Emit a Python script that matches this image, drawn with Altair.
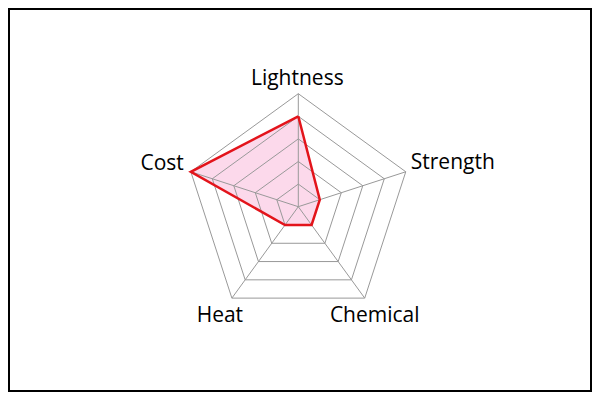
import math
import altair as alt
import pandas as pd

# ---- data ----
categories = ["Lightness", "Strength", "Chemical", "Heat", "Cost"]
values = [4, 1, 1, 1, 5]
ring_levels = [1, 2, 3, 4, 5]
max_value = 5

n = len(categories)
angles = [2 * math.pi * i / n for i in range(n)]


def pt(r, a):
    return r * math.sin(a), r * math.cos(a)


# rings
ring_rows = []
for lv in ring_levels:
    for k in range(n + 1):
        x, y = pt(lv, angles[k % n])
        ring_rows.append({"ring": lv, "idx": k, "x": x, "y": y})
rings_df = pd.DataFrame(ring_rows)

# spokes
spoke_rows = []
for c, a in zip(categories, angles):
    x, y = pt(max_value, a)
    spoke_rows.append({"cat": c, "x": 0.0, "y": 0.0, "x2": x, "y2": y})
spokes_df = pd.DataFrame(spoke_rows)

# series polygon
poly_rows = []
for k in range(n + 1):
    x, y = pt(values[k % n], angles[k % n])
    poly_rows.append({"idx": k, "x": x, "y": y})
poly_df = pd.DataFrame(poly_rows)

# labels
lab_rows = []
for c, a in zip(categories, angles):
    x, y = pt(max_value, a)
    lab_rows.append({"cat": c, "x": x, "y": y})
lab_df = pd.DataFrame(lab_rows)

# ---- layout ----
W, H, PAD = 584, 384, 1
pw, ph = W - 2 * PAD, H - 2 * PAD
cx, cy = 298.3 - 8 - PAD, 206.7 - 8 - PAD
unit = 113 / max_value
xdom = [-cx / unit, (pw - cx) / unit]
ydom = [-(ph - cy) / unit, cy / unit]

xs = alt.Scale(domain=xdom, nice=False, zero=False)
ys = alt.Scale(domain=ydom, nice=False, zero=False)
X = lambda f="x": alt.X(f"{f}:Q", scale=xs, axis=None)
Y = lambda f="y": alt.Y(f"{f}:Q", scale=ys, axis=None)

grid_color = "#999999"
red = "#e3141b"

fill = alt.Chart(poly_df).mark_line(
    fill="#e8007a", fillOpacity=0.15, strokeWidth=0
).encode(x=X(), y=Y(), order="idx:Q")

rings = alt.Chart(rings_df).mark_line(color=grid_color, strokeWidth=1).encode(
    x=X(), y=Y(), detail="ring:N", order="idx:Q"
)

spokes = alt.Chart(spokes_df).mark_rule(color=grid_color, strokeWidth=1).encode(
    x=X(), y=Y(), x2="x2:Q", y2="y2:Q"
)

outline = alt.Chart(poly_df).mark_line(
    color=red, strokeWidth=2.5, strokeJoin="miter"
).encode(x=X(), y=Y(), order="idx:Q")

label_style = {
    "Lightness": dict(align="center", dx=-1, dy=-9),
    "Strength": dict(align="left", dx=5, dy=-2.5),
    "Chemical": dict(align="center", dx=10, dy=23.6),
    "Heat": dict(align="center", dx=-12, dy=23.6),
    "Cost": dict(align="right", dx=-7, dy=-1.5),
}

label_layers = []
for c in categories:
    st = label_style[c]
    label_layers.append(
        alt.Chart(lab_df)
        .transform_filter(alt.datum.cat == c)
        .mark_text(
            font="Open Sans",
            fontSize=21,
            color="#000000",
            baseline="alphabetic",
            **st,
        )
        .encode(x=X(), y=Y(), text="cat:N")
    )

chart = (
    alt.layer(fill, rings, spokes, outline, *label_layers)
    .properties(
        width=W,
        height=H,
        padding=PAD,
        autosize=alt.AutoSizeParams(type="fit", contains="padding"),
    )
    .configure(background="#ffffff")
    .configure_view(stroke="#000000", strokeWidth=2)
)

chart.save("out.html", embed_options={"renderer": "svg", "actions": False})
